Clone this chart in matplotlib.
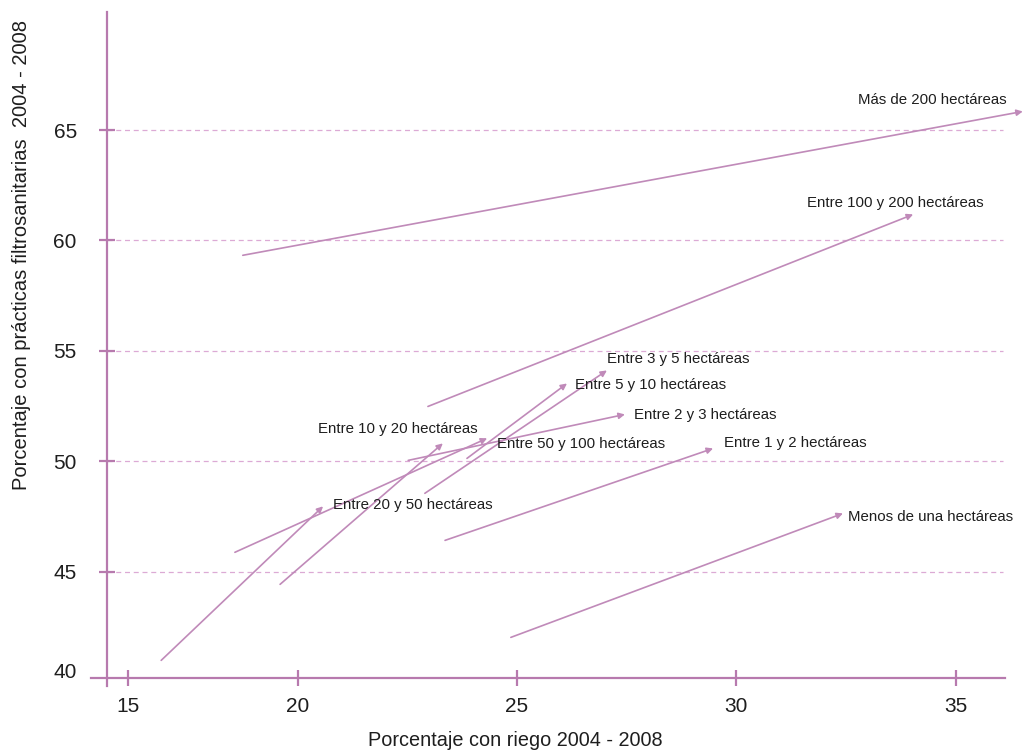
import matplotlib
matplotlib.use("Agg")
import matplotlib.pyplot as plt

plt.rcParams['font.family'] = ['Liberation Sans Narrow', 'Liberation Sans', 'DejaVu Sans']

# ---- data: (riego 2004 -> 2008, fitosanitarias 2004 -> 2008) ----
labels = ["Más de 200 hectáreas", "Entre 100 y 200 hectáreas", "Entre 3 y 5 hectáreas",
          "Entre 5 y 10 hectáreas", "Entre 2 y 3 hectáreas", "Entre 50 y 100 hectáreas",
          "Entre 10 y 20 hectáreas", "Entre 20 y 50 hectáreas", "Entre 1 y 2 hectáreas",
          "Menos de una hectáreas"]
x_start = [18.75, 22.97, 22.90, 23.86, 22.52, 18.57, 19.60, 16.89, 23.36, 24.86]
y_start = [59.33, 52.49, 48.56, 50.14, 50.05, 45.89, 44.44, 41.00, 46.43, 42.04]
x_end = [36.53, 34.03, 27.05, 26.14, 27.46, 24.32, 23.31, 20.58, 29.47, 32.43]
y_end = [65.84, 61.18, 54.12, 53.53, 52.13, 51.05, 50.82, 47.97, 50.59, 47.65]

xtick_pos = [16.13, 20, 25, 30, 35]
xtick_lab = ["15", "20", "25", "30", "35"]
ytick_pos = [40.55, 45, 50, 55, 60, 65]
ytick_lab = ["40", "45", "50", "55", "60", "65"]

# label offsets (pixels) from arrow tips: layout only
label_off = [(-165, 11), (-106, 11), (0, 11), (8, -2), (9, -1), (10, -6),
             (-125, 14), (10, 1), (11, 5), (5, -4)]

axis_col = '#b77aae'
arrow_col = '#c08ab9'
grid_col = '#dcaad5'
text_col = '#1e1e1e'

fig = plt.figure(figsize=(10.24, 7.53), dpi=100)
ax = fig.add_axes([91/1024, 1-686/753, (1024-91)/1024, (686-12)/753])
ax.set_xlim(15.29, 36.557)
ax.set_ylim(39.84, 70.34)

x_axis_pos = 15.647
y_axis_pos = 40.19
for s in ['top', 'right']:
    ax.spines[s].set_visible(False)
ax.spines['left'].set_position(('data', x_axis_pos))
ax.spines['bottom'].set_position(('data', y_axis_pos))
ax.spines['bottom'].set_bounds(15.29, 36.12)
for s in ['left', 'bottom']:
    ax.spines[s].set_color(axis_col)
    ax.spines[s].set_linewidth(1.6)

ax.set_xticks(xtick_pos)
ax.set_xticklabels(xtick_lab)
ax.set_yticks(ytick_pos)
ax.set_yticklabels(ytick_lab)
ax.tick_params(axis='both', direction='inout', length=11, width=1.6, color=axis_col,
               labelsize=15, labelcolor=text_col)
ax.tick_params(axis='y', pad=16)
ax.tick_params(axis='x', pad=8)
ax.yaxis.get_major_ticks()[0].tick1line.set_visible(False)

# dashed grid lines
ax.hlines(ytick_pos[1:], x_axis_pos, 36.08, colors=grid_col, linestyles=(0, (4, 3)),
          linewidth=0.9, zorder=0)

for lab, xs, ys, xe, ye, off in zip(labels, x_start, y_start, x_end, y_end, label_off):
    ax.annotate('', xy=(xe, ye), xytext=(xs, ys),
                arrowprops=dict(arrowstyle='-|>', color=arrow_col, lw=1.2,
                                mutation_scale=9, shrinkA=0, shrinkB=0),
                annotation_clip=False)
    ax.annotate(lab, xy=(xe, ye), xytext=off, textcoords='offset pixels',
                ha='left', va='center', fontsize=10.8, color=text_col)

ax.set_xlabel("Porcentaje con riego 2004 - 2008", fontsize=14.3, color=text_col)
ax.xaxis.set_label_coords((515-91)/933, (686-740)/674)
ax.xaxis.label.set_va('center')
ax.set_ylabel("Porcentaje con prácticas filtrosanitarias  2004 - 2008", fontsize=14.5, color=text_col)
ax.yaxis.set_label_coords((22-91)/933, (686-255)/674)
ax.yaxis.label.set_va('center')

fig.savefig("out.png", dpi=100)
